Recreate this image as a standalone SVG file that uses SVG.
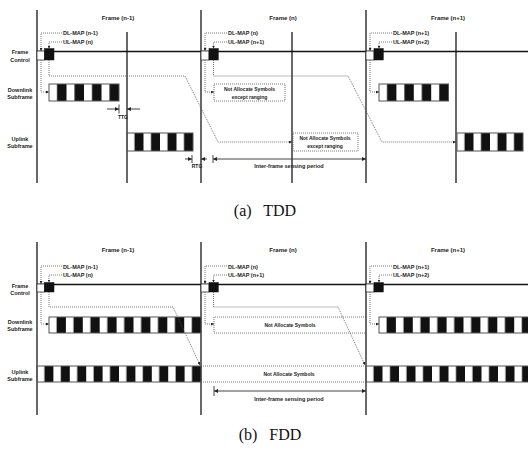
<svg xmlns="http://www.w3.org/2000/svg" width="528" height="449" viewBox="0 0 528 449">
<defs>
<style>
.fl{stroke:#444;stroke-width:1.6;fill:none}
.hl{stroke:#111;stroke-width:1.3;fill:none}
.dt{stroke:#555;stroke-width:0.8;stroke-dasharray:1 1;fill:none}
.ln{stroke:#444;stroke-width:1;fill:none}
.sb{stroke:#555;stroke-width:1}
.wb{fill:#fff;stroke:#333;stroke-width:0.8}
.bb{fill:#111;stroke:#111;stroke-width:0.5}
.t{font-family:'Liberation Sans',Arial,sans-serif;font-weight:bold;font-size:5.5px;fill:#222}
.s{font-size:5px}
.f{font-size:6px}
.m{text-anchor:middle}
.cap{font-family:'Liberation Serif','Times New Roman',serif;font-size:16px;fill:#111;text-anchor:middle;white-space:pre}
</style>
<marker id="la" viewBox="0 0 6 6" refX="6" refY="3" markerWidth="3" markerHeight="3" markerUnits="userSpaceOnUse" orient="auto"><path d="M0,0L6,3L0,6z" fill="#222"/></marker>
<marker id="da" viewBox="0 0 6 6" refX="6" refY="3" markerWidth="4" markerHeight="4" markerUnits="userSpaceOnUse" orient="auto-start-reverse"><path d="M0,0L6,3L0,6z" fill="#222"/></marker>
<pattern id="pA" patternUnits="userSpaceOnUse" x="49" y="0" width="17.5" height="449"><rect x="8" y="0" width="9.5" height="449" fill="#111"/></pattern>
<pattern id="pB" patternUnits="userSpaceOnUse" x="127" y="0" width="16.5" height="449"><rect x="7.5" y="0" width="9" height="449" fill="#111"/></pattern>
<pattern id="pC" patternUnits="userSpaceOnUse" x="379" y="0" width="17.4" height="449"><rect x="8" y="0" width="9.4" height="449" fill="#111"/></pattern>
<pattern id="pD" patternUnits="userSpaceOnUse" x="457" y="0" width="16.5" height="449"><rect x="7.5" y="0" width="9" height="449" fill="#111"/></pattern>
<pattern id="pE" patternUnits="userSpaceOnUse" x="49" y="0" width="16.9" height="449"><rect x="7.6" y="0" width="9.3" height="449" fill="#111"/></pattern>
<pattern id="pF" patternUnits="userSpaceOnUse" x="37" y="0" width="16.4" height="449"><rect x="7.4" y="0" width="9" height="449" fill="#111"/></pattern>
<pattern id="pG" patternUnits="userSpaceOnUse" x="379" y="0" width="16.9" height="449"><rect x="7.6" y="0" width="9.3" height="449" fill="#111"/></pattern>
<pattern id="pH" patternUnits="userSpaceOnUse" x="366" y="0" width="16.5" height="449"><rect x="7.5" y="0" width="9" height="449" fill="#111"/></pattern>
</defs>
<rect width="528" height="449" fill="#fff"/>

<!-- ================= TDD ================= -->
<g id="tdd-axes">
<path class="fl" d="M37,10V183M201,10V183M366,10V183M127,32V183M292,32V183M456,32V183"/>
<path class="hl" d="M37,51.5H528"/>
</g>
<g id="tdd-row-labels">
<text class="t m" x="20" y="54">Frame</text>
<text class="t m" x="20" y="61.5">Control</text>
<text class="t m" x="20" y="91.5">Downlink</text>
<text class="t m" x="20" y="98.5">Subframe</text>
<text class="t m" x="20" y="141">Uplink</text>
<text class="t m" x="20" y="148">Subframe</text>
</g>
<g id="tdd-frame-labels">
<text class="t f m" x="118" y="19.5">Frame (n-1)</text>
<text class="t f m" x="283" y="19.5">Frame (n)</text>
<text class="t f m" x="448" y="19.5">Frame (n+1)</text>
</g>
<g id="tdd-fc-n-1">
<rect class="wb" x="37" y="51" width="7.5" height="9"/>
<rect class="bb" x="44.5" y="48.5" width="9.5" height="11.5"/>
<text class="t" x="63" y="35">DL-MAP (n-1)</text>
<text class="t" x="63" y="44">UL-MAP (n)</text>
</g>
<g id="tdd-fc-n">
<rect class="wb" x="201" y="51" width="8" height="9"/>
<rect class="bb" x="209" y="48.5" width="9.3" height="11.5"/>
<text class="t" x="228" y="35">DL-MAP (n)</text>
<text class="t" x="228" y="44">UL-MAP (n+1)</text>
</g>
<g id="tdd-fc-n1">
<rect class="wb" x="366" y="51" width="8" height="9"/>
<rect class="bb" x="374" y="48.5" width="9.3" height="11.5"/>
<text class="t" x="393" y="35">DL-MAP (n+1)</text>
<text class="t" x="393" y="44">UL-MAP (n+2)</text>
</g>
<g id="tdd-dl-n-1"><rect class="sb" x="49" y="84" width="70" height="17" fill="url(#pA)"/></g>
<g id="tdd-ul-n-1"><rect class="sb" x="127" y="133" width="66" height="18" fill="url(#pB)"/></g>
<g id="tdd-dl-n1"><rect class="sb" x="379" y="84" width="69.5" height="17" fill="url(#pC)"/></g>
<g id="tdd-ul-n1"><rect class="sb" x="457" y="133" width="66" height="18" fill="url(#pD)"/></g>
<g id="tdd-dl-n">
<rect class="dt" x="214" y="84" width="71" height="17"/>
<text class="t s m" x="249.5" y="91">Not Allocate Symbols</text>
<text class="t s m" x="249.5" y="98.5">except ranging</text>
</g>
<g id="tdd-ul-n">
<rect class="dt" x="293" y="133" width="65" height="18"/>
<text class="t s m" x="325" y="140">Not Allocate Symbols</text>
<text class="t s m" x="325" y="147.5">except ranging</text>
</g>
<g id="tdd-dims">
<text class="t s m" x="123" y="119">TTG</text>
<text class="t s m" x="197" y="168">RTG</text>
<text class="t m" x="289" y="168">Inter-frame sensing period</text>
</g>

<!-- ================= FDD ================= -->
<g id="fdd-axes">
<path class="fl" d="M37,242V415M201,242V415M366,242V415"/>
<path class="hl" d="M37,284.5H528"/>
</g>
<g id="fdd-row-labels">
<text class="t m" x="20" y="288">Frame</text>
<text class="t m" x="20" y="294.5">Control</text>
<text class="t m" x="20" y="324">Downlink</text>
<text class="t m" x="20" y="330.5">Subframe</text>
<text class="t m" x="20" y="373.5">Uplink</text>
<text class="t m" x="20" y="380.5">Subframe</text>
</g>
<g id="fdd-frame-labels">
<text class="t f m" x="118" y="252">Frame (n-1)</text>
<text class="t f m" x="283" y="252">Frame (n)</text>
<text class="t f m" x="448" y="252">Frame (n+1)</text>
</g>
<g id="fdd-fc-n-1">
<rect class="wb" x="37" y="284" width="7.5" height="8"/>
<rect class="bb" x="44.5" y="282.5" width="9.5" height="9.5"/>
<text class="t" x="63" y="268.5">DL-MAP (n-1)</text>
<text class="t" x="63" y="277">UL-MAP (n)</text>
</g>
<g id="fdd-fc-n">
<rect class="wb" x="201" y="284" width="8" height="8"/>
<rect class="bb" x="209" y="282.5" width="9.3" height="9.5"/>
<text class="t" x="228" y="268.5">DL-MAP (n)</text>
<text class="t" x="228" y="277">UL-MAP (n+1)</text>
</g>
<g id="fdd-fc-n1">
<rect class="wb" x="366" y="284" width="8" height="8"/>
<rect class="bb" x="374" y="282.5" width="9.3" height="9.5"/>
<text class="t" x="393" y="268.5">DL-MAP (n+1)</text>
<text class="t" x="393" y="277">UL-MAP (n+2)</text>
</g>
<g id="fdd-dl-n-1"><rect class="sb" x="49" y="317" width="152" height="16" fill="url(#pE)"/></g>
<g id="fdd-ul-n-1"><rect class="sb" x="37" y="366" width="164" height="16" fill="url(#pF)"/></g>
<g id="fdd-dl-n1"><rect class="sb" x="379" y="317" width="150" height="16" fill="url(#pG)"/></g>
<g id="fdd-ul-n1"><rect class="sb" x="366" y="366" width="163" height="16" fill="url(#pH)"/></g>
<g id="fdd-dl-n">
<path class="dt" d="M366,317H214V333H366"/>
<text class="t s m" x="290" y="326.5">Not Allocate Symbols</text>
</g>
<g id="fdd-ul-n">
<path class="dt" d="M201,366H366M201,382H366"/>
<text class="t s m" x="289" y="376">Not Allocate Symbols</text>
</g>
<g id="fdd-dims">
<text class="t m" x="289" y="401">Inter-frame sensing period</text>
</g>

<g id="captions">
<text class="cap" x="265" y="216">(a)   TDD</text>
<text class="cap" x="270" y="440">(b)   FDD</text>
</g>

<!-- ================= connectors ================= -->
<g id="connectors">
<!-- TDD leaders -->
<path class="dt" d="M62,33H41V51" marker-end="url(#la)"/>
<path class="dt" d="M62,42H49V48.5" marker-end="url(#la)"/>
<path class="dt" d="M227,33H205V51" marker-end="url(#la)"/>
<path class="dt" d="M227,42H213.5V48.5" marker-end="url(#la)"/>
<path class="dt" d="M392,33H370V51" marker-end="url(#la)"/>
<path class="dt" d="M392,42H379V48.5" marker-end="url(#la)"/>
<path class="dt" d="M41,60V92H49" marker-end="url(#la)"/>
<path class="dt" d="M205,60V92H214" marker-end="url(#la)"/>
<path class="dt" d="M370,60V92H379" marker-end="url(#la)"/>
<path class="dt" d="M49,60V76H185L218,142H292" marker-end="url(#la)"/>
<path class="dt" d="M213.5,60V76H348L382,142H456" marker-end="url(#la)"/>
<!-- TDD dimensions -->
<path class="ln" d="M119,104.5V113.5M192,155V163M213,155V163"/>
<path class="ln" d="M107,109H119" marker-end="url(#da)"/>
<path class="ln" d="M140,109H127" marker-end="url(#da)"/>
<path class="ln" d="M185,159H192" marker-end="url(#da)"/>
<path class="ln" d="M207,159H201" marker-end="url(#da)"/>
<path class="ln" d="M213,159H366" marker-start="url(#da)" marker-end="url(#da)"/>
<!-- FDD leaders -->
<path class="dt" d="M62,266H41V284" marker-end="url(#la)"/>
<path class="dt" d="M62,275H49V282.5" marker-end="url(#la)"/>
<path class="dt" d="M227,266H205V284" marker-end="url(#la)"/>
<path class="dt" d="M227,275H213.5V282.5" marker-end="url(#la)"/>
<path class="dt" d="M392,266H370V284" marker-end="url(#la)"/>
<path class="dt" d="M392,275H379V282.5" marker-end="url(#la)"/>
<path class="dt" d="M41,292V324H49" marker-end="url(#la)"/>
<path class="dt" d="M205,292V324H214" marker-end="url(#la)"/>
<path class="dt" d="M370,292V324H379" marker-end="url(#la)"/>
<path class="dt" d="M49,292V307H173L200,365" marker-end="url(#la)"/>
<path class="dt" d="M213.5,292V307H338L365,365" marker-end="url(#la)"/>
<!-- FDD dimension -->
<path class="ln" d="M214,386V396"/>
<path class="ln" d="M214,391H366" marker-start="url(#da)" marker-end="url(#da)"/>
</g>
</svg>
